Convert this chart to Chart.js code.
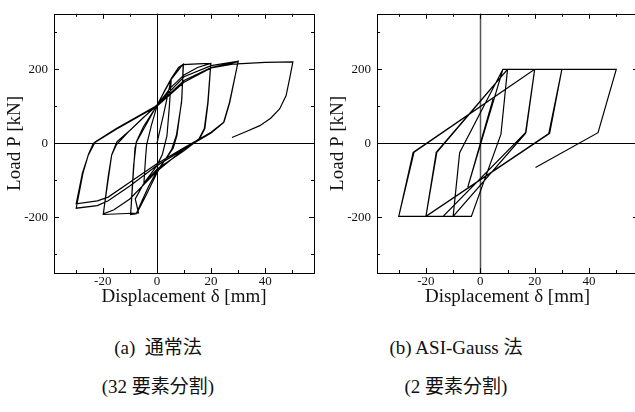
<!DOCTYPE html>
<html>
<head>
<meta charset="utf-8">
<script src="https://cdn.jsdelivr.net/npm/chart.js@4.4.0/dist/chart.umd.min.js"></script>
<style>
  body { margin: 0; background: #fff; width: 635px; height: 412px; overflow: hidden; position: relative; }
  .wrap { position: absolute; top: 0; height: 310px; }
  .cap { position: absolute; width: 240px; text-align: center; white-space: nowrap; color: #111;
         font-family: "Liberation Serif", "Noto Sans CJK JP", serif; font-size: 19px; }
</style>
</head>
<body>
<div class="wrap" style="left:0; width:320px"><canvas id="normal"></canvas></div>
<div class="wrap" style="left:323px; width:315px"><canvas id="gauss"></canvas></div>
<div class="cap" style="left:38px; top:332px">(a)&nbsp; 通常法</div>
<div class="cap" style="left:38px; top:371px">(32 要素分割)</div>
<div class="cap" style="left:336px; top:332px">(b) ASI-Gauss 法</div>
<div class="cap" style="left:336px; top:371px">(2 要素分割)</div>
<script>
// axis ticks
const dispTicks = [-30, -20, -10, 0, 10, 20, 30, 40, 50];
const loadTicks = [-300, -200, -100, 0, 100, 200, 300];

// (a) conventional method, 32 elements
const normalDisp = [
  0, 2.5, 5.3,
  4.6, 3.7, 2, 0, -2.5, -4.8,
  -4.2, -3.8, -2, 0, 3, 5.5, 8, 9.7,
  9.2, 7.4, 6, 3, 0, -3, -5.5, -7.5, -9.7,
  -8.6, -7.6, -5, 0, 4.5, 8, 9.8,
  9.1, 7.2, 5.5, 0, -4, -7.5, -9.7,
  -8.1, -7.4, 0, 5, 9.5, 15, 19.9,
  18.9, 17.7, 15.8, 10, 0, -5, -8, -6.8, -19.8,
  -18, -16.7, -15, -10, -5, 0, 5, 10, 15, 19.9,
  18.8, 17.5, 15.5, 10, 0, -10, -16, -19.8,
  -16.7, -14.8, -10, 0, 10, 20, 30,
  26.9, 24.8, 20, 10, 0, -10, -18, -22, -29.8,
  -27.5, -25.3, -22.8, -15, 0, 10, 20, 30,
  26.8, 24.6, 20, 10, 0, -10, -18, -22, -29.8,
  -27.3, -25.3, -23.5, -15, 0, 10, 20, 28, 40, 50.2,
  49, 47.7, 45.3, 42, 38, 33, 27.7
];
const normalLoad = [
  0, 80, 175,
  100, 20, -30, -60, -85, -107,
  -40, -4, 50, 100, 145, 178, 205, 213,
  120, 22, -13, -45, -75, -115, -155, -188, -191,
  -60, 4, 45, 102, 165, 205, 214,
  111, 22, -15, -80, -140, -190, -192,
  -13, 6, 103, 170, 213, 215, 216,
  111, 40, 13, -20, -70, -110, -150, -188, -192,
  -90, -31, -4, 35, 70, 102, 150, 185, 205, 216,
  111, 40, 12, -15, -75, -150, -180, -190,
  -31, 4, 35, 104, 180, 210, 222,
  111, 58, 30, -12, -55, -105, -145, -155, -163,
  -80, -31, 4, 40, 102, 170, 205, 221,
  111, 56, 28, -15, -60, -115, -155, -168, -175,
  -80, -30, 0, 38, 100, 165, 204, 214, 219, 220,
  175, 129, 93, 68, 48, 32, 16
];

// (b) ASI-Gauss method, 2 elements
const gaussDisp = [
  0, 4.7, -4.6, 8.3,
  10, 7.6, -3.3, -10, -7.6, 8.3,
  10, 7.6, -3.3, -10, -7.6, 8.3,
  20, 16.6, -10, -20, -16, 10,
  20, 16.8, -13.7, -20, -16.2, 10,
  30, 25.5, -20, -30, -24.4, 20,
  30, 25.2, -20, -30, -24.7, 20,
  50, 43.3, 20.3
];
const gaussLoad = [
  0, 120, -118, 200,
  200, 25, -197, -197, -25, 200,
  200, 25, -197, -197, -25, 200,
  200, 27, -197, -197, -24, 200,
  200, 30, -197, -197, -24, 200,
  200, 27, -197, -197, -24, 200,
  200, 27, -197, -197, -24, 200,
  200, 29, -65
];

const toPoints = (xs, ys) => xs.map((x, i) => ({ x: x, y: ys[i] }));

const serif = "'Liberation Serif', 'Times New Roman', serif";

// frame, zero lines and inward tick marks
const framePlugin = {
  id: "frame",
  beforeDatasetsDraw(chart, args, opts) {
    const { ctx, chartArea: a, scales: { x, y } } = chart;
    ctx.save();
    ctx.lineWidth = 1;
    const x0 = Math.round(x.getPixelForValue(0)) + 0.5;
    const y0 = Math.round(y.getPixelForValue(0)) + 0.5;
    // vertical zero line
    ctx.strokeStyle = opts.zeroColor || "#000";
    ctx.lineWidth = opts.zeroWidth || 1;
    ctx.beginPath();
    ctx.moveTo(x0, a.top); ctx.lineTo(x0, a.bottom);
    ctx.stroke();
    ctx.strokeStyle = "#000";
    ctx.lineWidth = 1;
    ctx.beginPath();
    ctx.moveTo(a.left, y0); ctx.lineTo(a.right, y0);
    dispTicks.forEach((v) => {
      const px = Math.round(x.getPixelForValue(v)) + 0.5;
      const len = v % 20 === 0 ? 5 : 3;
      ctx.moveTo(px, a.bottom); ctx.lineTo(px, a.bottom - len);
      ctx.moveTo(px, a.top); ctx.lineTo(px, a.top + len);
    });
    loadTicks.forEach((v) => {
      const py = Math.round(y.getPixelForValue(v)) + 0.5;
      const len = v % 200 === 0 ? 5 : 3;
      ctx.moveTo(a.left, py); ctx.lineTo(a.left + len, py);
      ctx.moveTo(a.right, py); ctx.lineTo(a.right - len, py);
    });
    ctx.stroke();
    ctx.strokeRect(Math.round(a.left) + 0.5, Math.round(a.top) + 0.5,
      Math.round(a.right - a.left), Math.round(a.bottom - a.top));
    ctx.restore();
  }
};

function makeChart(id, xs, ys, rightPad, zeroColor, zeroWidth) {
  return new Chart(document.getElementById(id), {
    type: "scatter",
    data: {
      datasets: [{
        data: toPoints(xs, ys),
        showLine: true,
        borderColor: "#000",
        borderWidth: 1.2,
        pointRadius: 0,
        tension: 0
      }]
    },
    options: {
      responsive: true,
      maintainAspectRatio: false,
      animation: false,
      layout: { padding: { top: 10, right: rightPad, left: 0, bottom: 0 } },
      plugins: {
        legend: { display: false },
        tooltip: { enabled: false },
        frame: { zeroColor: zeroColor, zeroWidth: zeroWidth }
      },
      scales: {
        x: {
          type: "linear",
          min: -38,
          max: 58,
          grid: { display: false, drawTicks: false },
          border: { display: false },
          afterBuildTicks: (s) => { s.ticks = dispTicks.map((v) => ({ value: v })); },
          ticks: {
            autoSkip: false,
            maxRotation: 0,
            padding: 1,
            color: "#111",
            font: { family: serif, size: 13 },
            callback: (v) => (v % 20 === 0 ? String(v) : "")
          },
          title: {
            display: true,
            text: "Displacement δ [mm]",
            color: "#111",
            font: { family: serif, size: 19 },
            padding: { top: 0, bottom: 2 }
          },
          afterFit: (s) => { s.height = 37; }
        },
        y: {
          type: "linear",
          min: -350,
          max: 350,
          grid: { display: false, drawTicks: false },
          border: { display: false },
          afterBuildTicks: (s) => { s.ticks = loadTicks.map((v) => ({ value: v })); },
          ticks: {
            autoSkip: false,
            padding: 6,
            color: "#111",
            font: { family: serif, size: 13 },
            callback: (v) => (v % 200 === 0 ? String(v) : "")
          },
          title: {
            display: true,
            text: "Load P [kN]",
            color: "#111",
            font: { family: serif, size: 19 },
            padding: { top: 4, bottom: 0 }
          },
          afterFit: (s) => { s.width = 54; }
        }
      }
    },
    plugins: [framePlugin]
  });
}

makeChart("normal", normalDisp, normalLoad, 6, "#000", 1);
makeChart("gauss", gaussDisp, gaussLoad, 0, "#555", 1.5);
</script>
</body>
</html>
